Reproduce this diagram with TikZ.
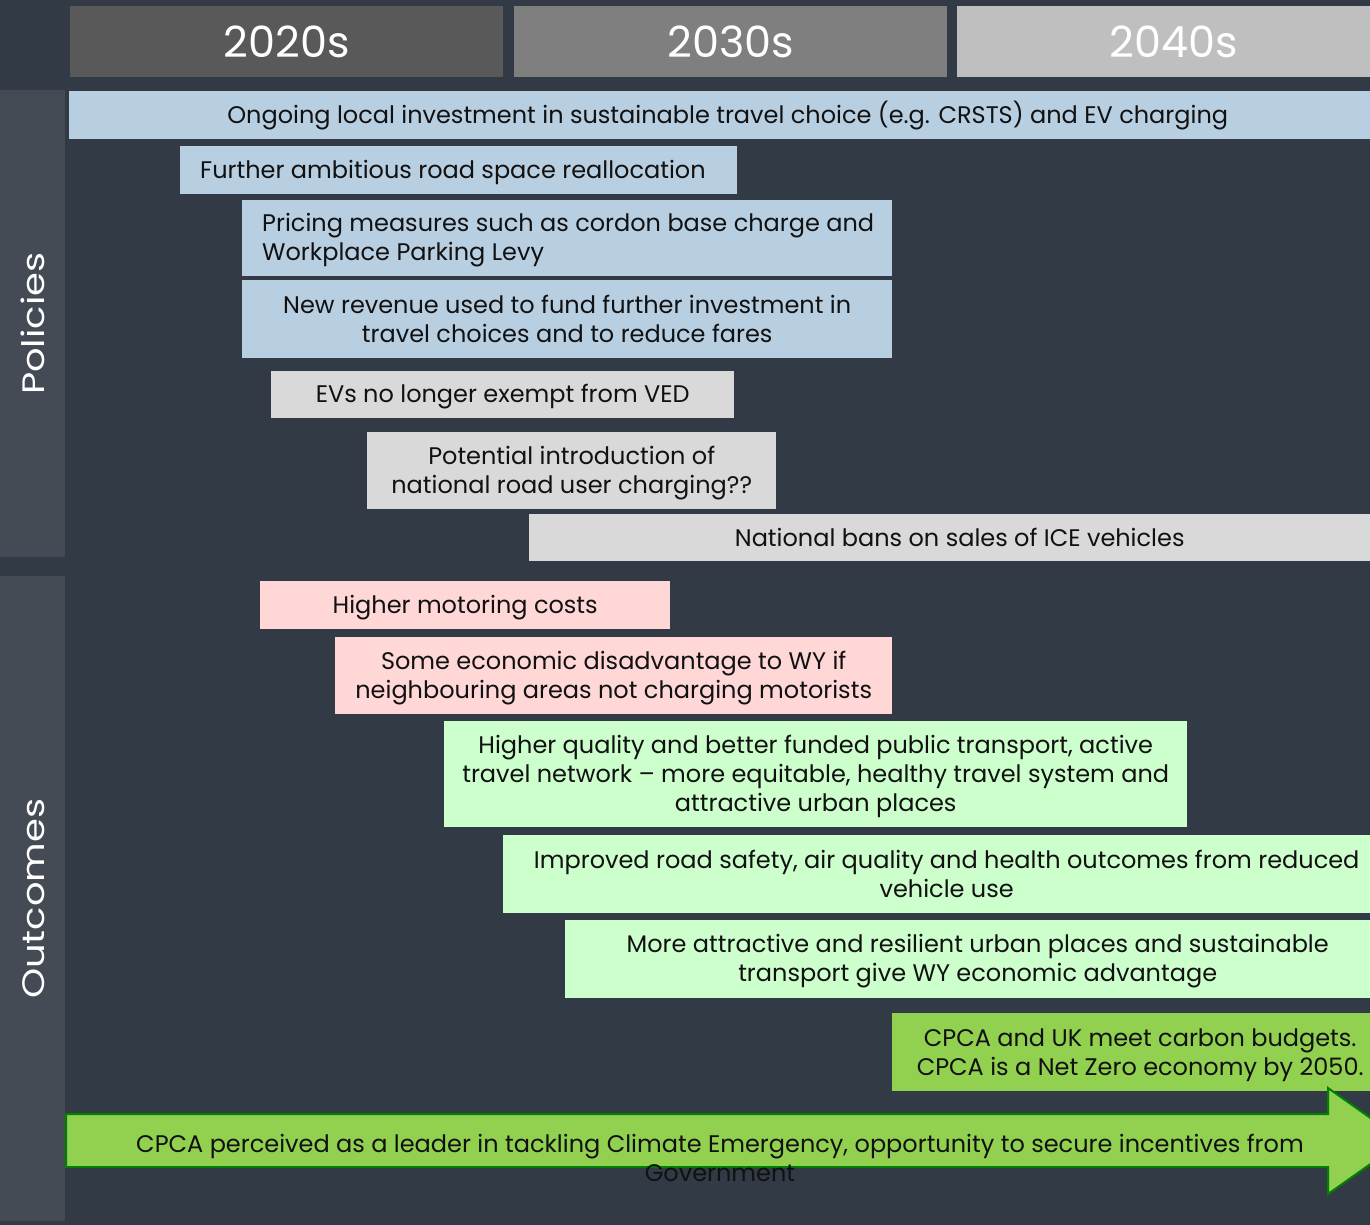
\documentclass[tikz,border=0pt]{standalone}
\usepackage{graphicx}
\usepackage{fontspec}
\setmainfont{Poppins}
\definecolor{bgc}{HTML}{323A45}
\definecolor{sidec}{HTML}{444B55}
\definecolor{hda}{HTML}{595959}
\definecolor{hdb}{HTML}{7F7F7F}
\definecolor{hdc}{HTML}{BFBFBF}
\definecolor{bluec}{HTML}{B8CFE2}
\definecolor{greyc}{HTML}{D9D9D9}
\definecolor{pinkc}{HTML}{FFD7D7}
\definecolor{lgreenc}{HTML}{CCFFCC}
\definecolor{greenc}{HTML}{92D050}
\definecolor{darkg}{HTML}{008000}
\definecolor{textc}{HTML}{111111}
\newcommand\ST{\rule{0pt}{23pt}}
\newcommand\SB{\rule[-6pt]{0pt}{6pt}}
\tikzset{
  box/.style={inner sep=0pt, anchor=north west, text=textc, align=center,
    font=\fontsize{24}{29}\selectfont},
  txt/.style={inner sep=0pt, text=textc, font=\fontsize{24}{29}\selectfont},
  hdr/.style={inner sep=0pt, anchor=north west, text=white, text height=32pt, text depth=0pt,
    font=\fontsize{43}{50}\selectfont},
  side/.style={inner sep=0pt, anchor=north west, fill=sidec},
  sidelbl/.style={rotate=90, text=white, inner sep=0pt, text height=22pt, text depth=0pt,
    font=\fontsize{31}{36}\selectfont}
}
\begin{document}
\begin{tikzpicture}[x=1pt,y=-1pt]
\useasboundingbox (0,0) rectangle (1370,1225);
\clip (0,0) rectangle (1370,1225);
\fill[bgc] (0,0) rectangle (1370,1225);
% headers
\node[hdr, fill=hda, minimum width=433, minimum height=71] (h1) at (70,6) {2020s};
\node[hdr, fill=hdb, minimum width=433, minimum height=71] (h2) at (514,6) {2030s};
\node[hdr, fill=hdc, minimum width=433, minimum height=71] (h3) at (957,6) {2040s};
% side bars
\node[side, minimum width=65, minimum height=467] (sp) at (0,90) {};
\node[side, minimum width=65, minimum height=645] (so) at (0,576) {};
\node[sidelbl] (lp) at ([xshift=1pt]sp.center) {\scalebox{1.24}[1]{Policies}};
\node[sidelbl] (lo) at ([xshift=1pt]so.center) {\scalebox{1.24}[1]{Outcomes}};
% policies
\node[box, fill=bluec, minimum width=1317, minimum height=48] (b1) at (69,91)
  {\ST Ongoing local investment in sustainable travel choice (e.g. CRSTS) and EV charging\SB};
\node[box, fill=bluec, minimum width=557, minimum height=48] (b2) at (180,146) {};
\node[txt, anchor=west, align=left] (t2) at ([xshift=20pt]b2.west)
  {\ST Further ambitious road space reallocation\SB};
\node[box, fill=bluec, minimum width=650, minimum height=76] (b3) at (242,200) {};
\node[txt, anchor=west, align=left] (t3) at ([xshift=20pt]b3.west)
  {\ST Pricing measures such as cordon base charge and\\Workplace Parking Levy\SB};
\node[box, fill=bluec, minimum width=650, minimum height=78] (b4) at (242,280)
  {\ST New revenue used to fund further investment in\\travel choices and to reduce fares\SB};
\node[box, fill=greyc, minimum width=463, minimum height=47] (b5) at (271,371)
  {\ST EVs no longer exempt from VED\SB};
\node[box, fill=greyc, minimum width=409, minimum height=77] (b6) at (367,432)
  {\ST Potential introduction of\\national road user charging??\SB};
\node[box, fill=greyc, minimum width=861, minimum height=47] (b7) at (529,514)
  {\ST National bans on sales of ICE vehicles\SB};
% outcomes
\node[box, fill=pinkc, minimum width=410, minimum height=48] (o1) at (260,581)
  {\ST Higher motoring costs\SB};
\node[box, fill=pinkc, minimum width=557, minimum height=77] (o2) at (335,637)
  {\ST Some economic disadvantage to WY if\\neighbouring areas not charging motorists\SB};
\node[box, fill=lgreenc, minimum width=743, minimum height=106] (o3) at (444,721)
  {\ST Higher quality and better funded public transport, active\\travel network -- more equitable, healthy travel system and\\attractive urban places\SB};
\node[box, fill=lgreenc, minimum width=887, minimum height=78] (o4) at (503,835)
  {\ST Improved road safety, air quality and health outcomes from reduced\\vehicle use\SB};
\node[box, fill=lgreenc, minimum width=825, minimum height=78] (o5) at (565,920)
  {\ST More attractive and resilient urban places and sustainable\\transport give WY economic advantage\SB};
\node[box, fill=greenc, minimum width=496, minimum height=78] (o6) at (892,1013)
  {\ST CPCA and UK meet carbon budgets.\\CPCA is a Net Zero economy by 2050.\SB};
% arrow
\draw[darkg, line width=2pt, fill=greenc, line join=miter]
  (66,1114) -- (1328,1114) -- (1328,1088) -- (1403,1141) -- (1328,1194)
  -- (1328,1167) -- (66,1167) -- cycle;
\node[txt, anchor=north, align=center] (arr) at (720,1129)
  {\ST CPCA perceived as a leader in tackling Climate Emergency, opportunity to secure incentives from\\Government};
\end{tikzpicture}
\end{document}
